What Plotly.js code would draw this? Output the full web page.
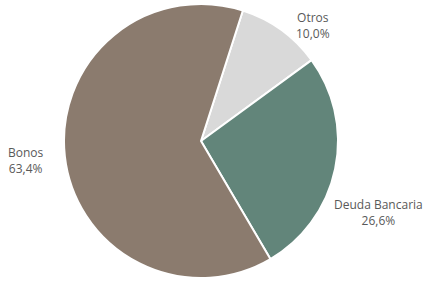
<!DOCTYPE html>
<html><head><meta charset="utf-8">
<script src="https://cdn.plot.ly/plotly-3.0.1.min.js"></script>
<style>html,body{margin:0;padding:0;background:#fff}#c{width:424px;height:281px}</style>
</head><body><div id="c"></div>
<script>
const labels = ["Otros", "Deuda Bancaria", "Bonos"];
const values = [10.0, 26.6, 63.4];
const colors = ["#d9d9d9", "#62857a", "#8b7b6e"];
const textLabels = values.map((v, i) => labels[i] + "<br>" + v.toFixed(1).replace(".", ",") + "%");
// label anchor positions (paper fraction)
const labelX = [313 / 424, 378 / 424, 25.5 / 424];
const labelY = [1 - 25.5 / 281, 1 - 212.5 / 281, 1 - 160.5 / 281];

const W = 424, H = 281;
Plotly.newPlot("c", [{
  type: "pie",
  labels: labels,
  values: values,
  textinfo: "none",
  sort: false,
  direction: "clockwise",
  rotation: 17.8,
  marker: {colors: colors, line: {color: "#ffffff", width: 2}},
  domain: {x: [0.1509, 0.7972], y: [0.0107, 0.9858]},
  showlegend: false,
  hoverinfo: "none"
}], {
  width: W, height: H,
  margin: {l: 0, r: 0, t: 0, b: 0},
  paper_bgcolor: "#fff",
  showlegend: false,
  annotations: textLabels.map((t, i) => ({
    text: t, x: labelX[i], y: labelY[i], xref: "paper", yref: "paper",
    xanchor: "center", yanchor: "middle", showarrow: false, align: "center",
    font: {family: "Open Sans", size: 12, color: "#595959"}
  }))
}, {displayModeBar: false, staticPlot: true});
</script></body></html>
